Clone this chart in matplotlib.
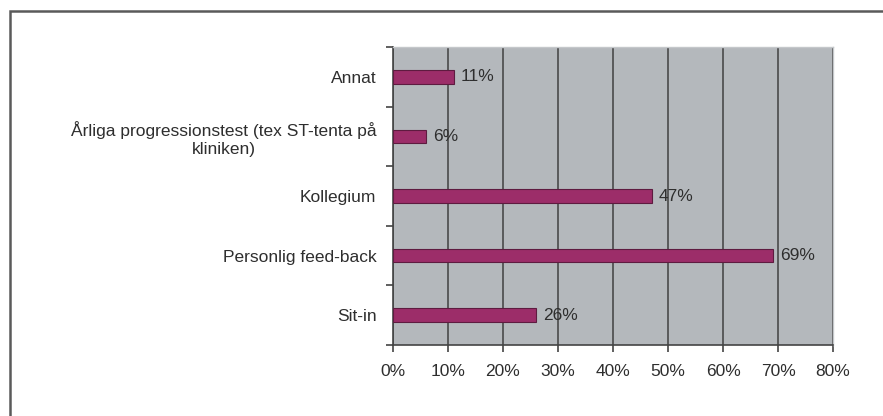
import matplotlib
matplotlib.use("Agg")
import matplotlib.pyplot as plt
from matplotlib.patches import Rectangle
from matplotlib.ticker import FixedLocator

plt.rcParams['font.family'] = ['Liberation Sans', 'DejaVu Sans']

categories = [
    "Annat",
    "Årliga progressionstest (tex ST-tenta på\nkliniken)",
    "Kollegium",
    "Personlig feed-back",
    "Sit-in",
]
values = [11, 6, 47, 69, 26]
xticks = [0, 10, 20, 30, 40, 50, 60, 70, 80]

FS = 12.5
TXT = "#2e2e2e"

fig = plt.figure(figsize=(8.83, 4.16), dpi=100)
fig.patch.set_facecolor("white")

# outer frame (top and left edges)
fig.add_artist(Rectangle((10 / 883, -0.1), 1.2, 1 - 11 / 416 + 0.1,
                         transform=fig.transFigure, fill=False,
                         edgecolor="#5a5a5a", linewidth=1.8))

ax = fig.add_axes([393 / 883, 1 - 345 / 416, 440 / 883, 298 / 416])
ax.set_facecolor("#b4b8bc")

y = list(range(len(categories)))
ax.barh(y, values, height=0.23, color="#9c2d69", edgecolor="#5e1b40",
        linewidth=0.8, zorder=3)

for yi, v in zip(y, values):
    ax.text(v + 1.3, yi, f"{v}%", va="center", ha="left",
            fontsize=FS, color=TXT, zorder=4)

ax.set_xlim(0, 80)
ax.set_ylim(len(categories) - 0.5, -0.5)
ax.set_xticks(xticks)
ax.set_xticklabels([f"{t}%" for t in xticks], fontsize=FS, color=TXT)
ax.set_yticks(y)
ax.set_yticklabels(categories, fontsize=FS, color=TXT,
                   multialignment="center")
ax.yaxis.set_minor_locator(FixedLocator([i - 0.5 for i in range(len(categories) + 1)]))

ax.tick_params(axis="y", which="major", length=0, pad=12)
ax.tick_params(axis="y", which="minor", length=5, width=1.2, color="#444444")
ax.tick_params(axis="x", which="major", length=5, width=1.2, color="#444444", pad=9)

ax.grid(axis="x", color="#4a4a4a", linewidth=1.2, zorder=1)
ax.set_axisbelow(True)

for side in ("top", "right"):
    ax.spines[side].set_color("#c4c7ca")
    ax.spines[side].set_linewidth(1.0)
for side in ("left", "bottom"):
    ax.spines[side].set_color("#444444")
    ax.spines[side].set_linewidth(1.2)

fig.savefig("out.png", dpi=100)
